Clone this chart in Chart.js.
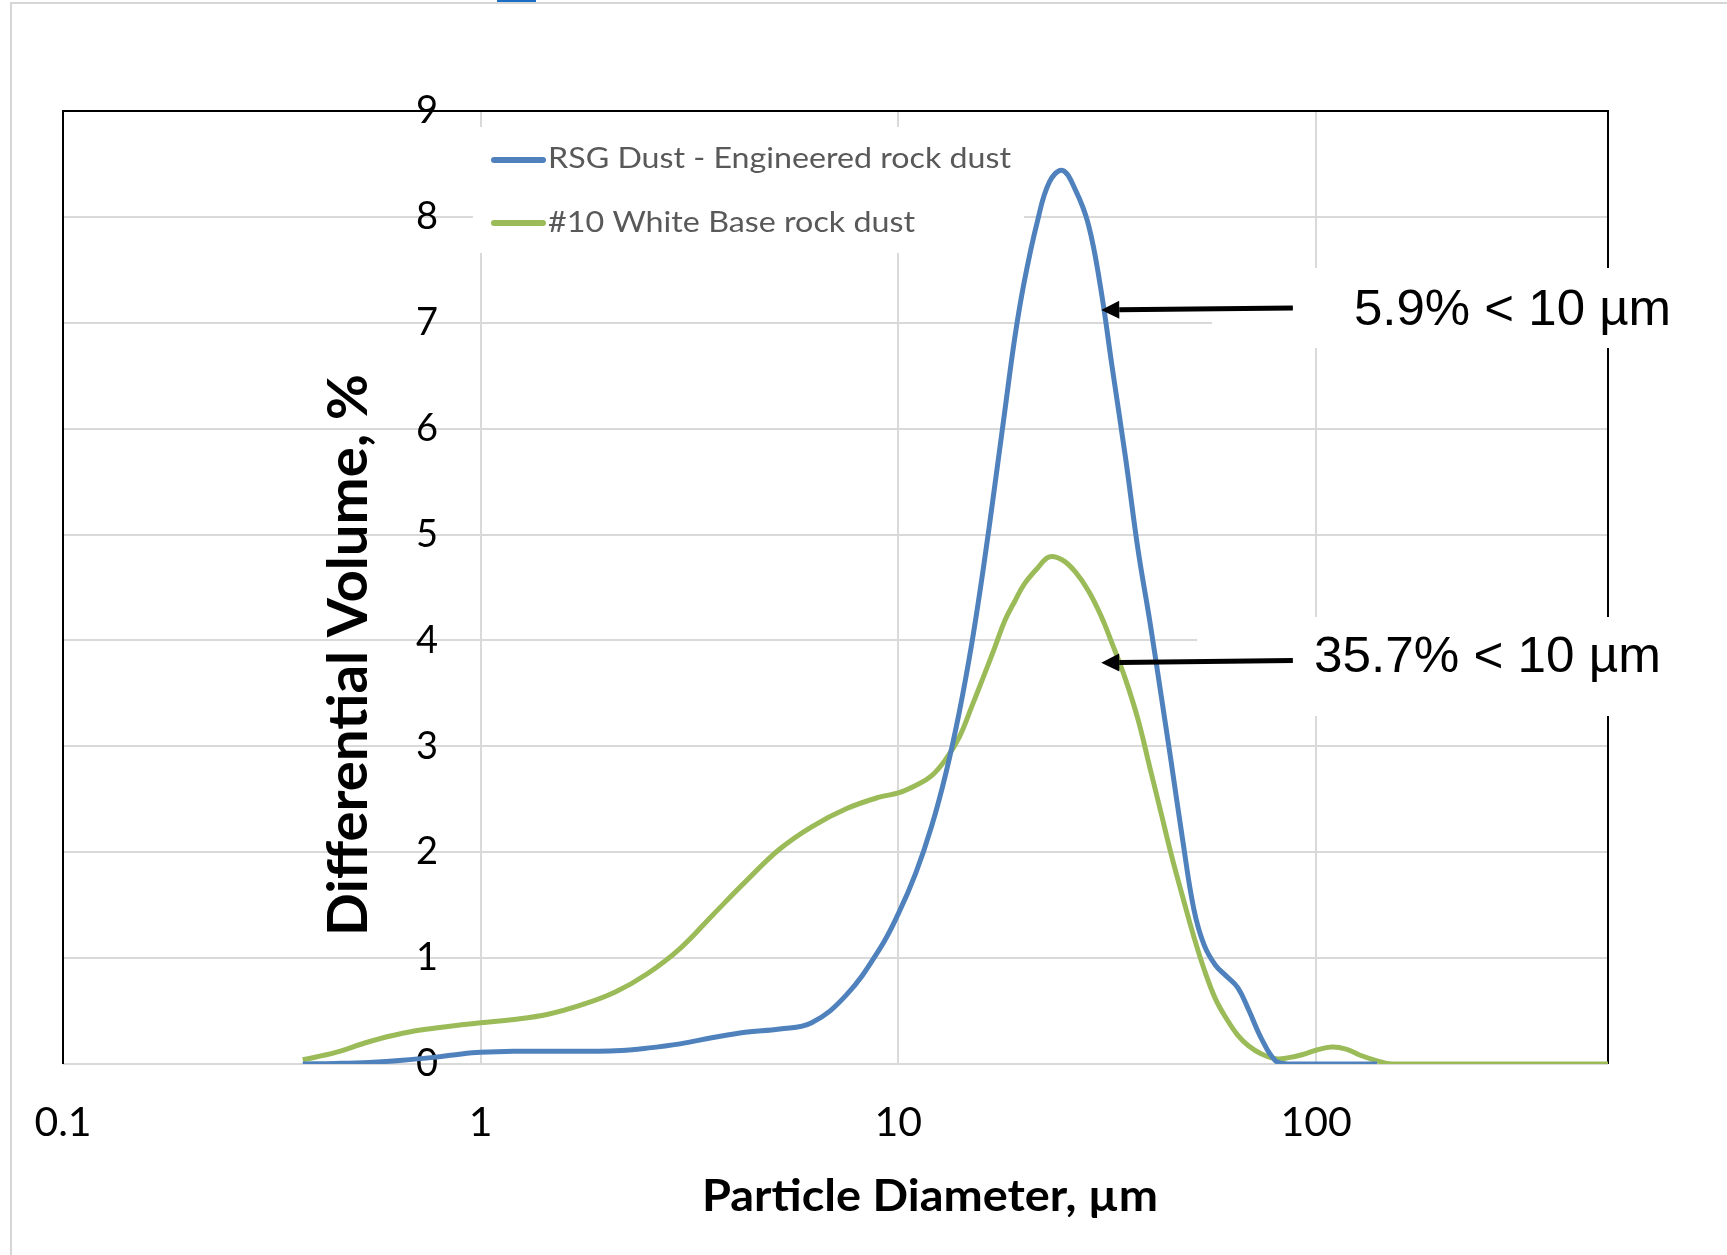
<!DOCTYPE html>
<html>
<head>
<meta charset="utf-8">
<script src="https://cdn.jsdelivr.net/npm/chart.js@4.4.1/dist/chart.umd.min.js"></script>
<style>
  html, body { margin: 0; padding: 0; background: #fff; }
  #wrap { width: 1727px; height: 1255px; }
</style>
</head>
<body>
<div id="wrap"><canvas id="psd" width="1727" height="1255"></canvas></div>
<script>
const blueColor = '#4f81bd'
const greenColor = '#9bbb59'
const gridColor = '#d9d9d9'

// particle diameter, µm
const sizes = [0.375, 0.45, 0.54, 0.65, 0.78, 0.9, 1.0, 1.2, 1.45, 1.75, 2.1, 2.5, 3.0, 3.6, 4.3, 5.2, 6.2, 7.5, 9.0, 10,
  11, 12, 13, 14, 15, 16, 17, 18, 19, 20, 21.5, 23, 24.7, 26.5, 28.5, 30.5, 32.5, 35, 37.5, 40,
  42.5, 45, 48, 51, 54, 57.5, 61, 65, 69, 74, 80, 86, 93, 100, 109, 118, 128, 140, 152, 200, 300, 500]

// differential volume, %
const rsgDust = [0, 0.005, 0.015, 0.035, 0.065, 0.095, 0.11, 0.12, 0.12, 0.12, 0.125, 0.15, 0.19, 0.25, 0.30, 0.33, 0.39, 0.65, 1.08, 1.42,
  1.80, 2.24, 2.75, 3.33, 3.98, 4.7, 5.45, 6.18, 6.86, 7.38, 7.95, 8.33, 8.44, 8.26, 7.93, 7.33, 6.58, 5.72, 4.85, 4.18,
  3.5, 2.85, 2.1, 1.46, 1.12, 0.93, 0.83, 0.72, 0.51, 0.24, 0.03, 0, 0, 0, 0, 0, 0, 0, null, null, null, null]

const whiteBase = [0.04, 0.11, 0.21, 0.29, 0.34, 0.37, 0.39, 0.42, 0.47, 0.56, 0.68, 0.85, 1.09, 1.41, 1.72, 2.03, 2.24, 2.41, 2.52, 2.56,
  2.63, 2.72, 2.88, 3.09, 3.38, 3.66, 3.93, 4.19, 4.37, 4.53, 4.68, 4.79, 4.76, 4.65, 4.47, 4.24, 3.97, 3.63, 3.25, 2.8,
  2.38, 1.98, 1.57, 1.2, 0.89, 0.61, 0.43, 0.27, 0.17, 0.095, 0.05, 0.06, 0.09, 0.13, 0.16, 0.14, 0.08, 0.03, 0, 0, 0, 0]

const seriesNames = ['RSG Dust - Engineered rock dust', '#10 White Base rock dust']
const xTickValues = [0.1, 1, 10, 100]
const xTickLabels = ['0.1', '1', '10', '100']
const yMin = 0
const yMax = 9
const xTitle = 'Particle Diameter, µm'
const yTitle = 'Differential Volume, %'
const notes = ['5.9% < 10 µm', '35.7% < 10 µm']

function toPoints(values) {
  var pts = []
  for (var i = 0; i < sizes.length; i++) {
    if (values[i] !== null) pts.push({x: sizes[i], y: values[i]})
  }
  return pts
}

// squeeze or stretch a string so it spans the given width
function fitText(ctx, text, x, y, width) {
  var w = ctx.measureText(text).width
  ctx.save()
  ctx.translate(x, y)
  ctx.scale(width / w, 1)
  ctx.textAlign = 'left'
  ctx.fillText(text, 0, 0)
  ctx.restore()
}

function arrow(ctx, x1, y1, x2, y2) {
  var ang = Math.atan2(y2 - y1, x2 - x1)
  var hl = 18, hw = 9
  var bx = x2 - hl * Math.cos(ang), by = y2 - hl * Math.sin(ang)
  ctx.strokeStyle = '#000'
  ctx.fillStyle = '#000'
  ctx.lineWidth = 5
  ctx.beginPath()
  ctx.moveTo(x1, y1)
  ctx.lineTo(bx, by)
  ctx.stroke()
  ctx.beginPath()
  ctx.moveTo(x2, y2)
  ctx.lineTo(bx - hw * Math.sin(ang), by + hw * Math.cos(ang))
  ctx.lineTo(bx + hw * Math.sin(ang), by - hw * Math.cos(ang))
  ctx.closePath()
  ctx.fill()
}

const decorations = {
  id: 'decorations',
  beforeDatasetsDraw(chart) {
    const ctx = chart.ctx
    const a = chart.chartArea
    ctx.save()
    // plot frame (bottom edge stays the grey zero line)
    ctx.strokeStyle = '#000'
    ctx.lineWidth = 2
    ctx.beginPath()
    ctx.moveTo(a.left, a.bottom)
    ctx.lineTo(a.left, a.top)
    ctx.lineTo(a.right, a.top)
    ctx.lineTo(a.right, a.bottom)
    ctx.stroke()

    // legend inside the plot
    ctx.fillStyle = '#fff'
    ctx.fillRect(473, 127, 551, 126)
    var rows = [{y: 160, base: 168, w: 463}, {y: 223, base: 232, w: 367}]
    ctx.font = '28px Lato'
    chart.data.datasets.forEach(function(ds, i) {
      ctx.strokeStyle = ds.borderColor
      ctx.lineWidth = 6
      ctx.lineCap = 'round'
      ctx.beginPath()
      ctx.moveTo(494, rows[i].y)
      ctx.lineTo(543, rows[i].y)
      ctx.stroke()
      ctx.fillStyle = '#595959'
      fitText(ctx, ds.label, 548, rows[i].base, rows[i].w)
    })
    ctx.restore()
  },
  afterDraw(chart) {
    const ctx = chart.ctx
    const xs = chart.scales.x
    const ys = chart.scales.y
    ctx.save()

    // outer border of the figure
    ctx.strokeStyle = '#d6d6d6'
    ctx.lineWidth = 2
    ctx.beginPath()
    ctx.moveTo(11, 1255)
    ctx.lineTo(11, 3)
    ctx.lineTo(1727, 3)
    ctx.stroke()
    ctx.fillStyle = '#1c6dc4'
    ctx.fillRect(497, 0, 39, 2)

    // axis titles
    ctx.fillStyle = '#000'
    ctx.font = 'bold 44px Lato'
    ctx.textBaseline = 'alphabetic'
    fitText(ctx, xTitle, 702, 1211, 456)
    ctx.save()
    ctx.translate(367, 936)
    ctx.rotate(-Math.PI / 2)
    ctx.font = 'bold 56px Lato'
    fitText(ctx, yTitle, 0, 0, 562)
    ctx.restore()

    // annotation boxes
    ctx.fillStyle = '#fff'
    ctx.fillRect(1212, 268, 515, 80)
    ctx.fillRect(1197, 617, 530, 99)
    ctx.fillStyle = '#000'
    ctx.font = '50px "Liberation Sans"'
    fitText(ctx, notes[0], 1354, 325, 317)
    fitText(ctx, notes[1], 1314, 672, 347)

    arrow(ctx, xs.getPixelForValue(88), ys.getPixelForValue(7.14), xs.getPixelForValue(30.6), ys.getPixelForValue(7.12))
    arrow(ctx, xs.getPixelForValue(88), ys.getPixelForValue(3.81), xs.getPixelForValue(30.6), ys.getPixelForValue(3.79))
    ctx.restore()
  }
}

Chart.defaults.font.family = 'Lato'
Chart.defaults.color = '#000'

var ctx = document.getElementById('psd')
var lineChart = new Chart(ctx, {
  type: 'line',
  data: {
    datasets: [
      {
        label: seriesNames[0],
        data: toPoints(rsgDust),
        borderColor: blueColor,
        borderWidth: 5,
        pointRadius: 0,
        fill: false,
        tension: 0.4
      },
      {
        label: seriesNames[1],
        data: toPoints(whiteBase),
        borderColor: greenColor,
        borderWidth: 5,
        pointRadius: 0,
        fill: false,
        tension: 0.4
      }
    ]
  },
  options: {
    responsive: false,
    animation: false,
    layout: { padding: { left: 63, top: 111, right: 119, bottom: 0 } },
    plugins: { legend: { display: false }, tooltip: { enabled: false } },
    scales: {
      x: {
        type: 'logarithmic',
        position: 'bottom',
        min: 0.1,
        max: 500,
        afterBuildTicks: function(scale) {
          scale.ticks = xTickValues.map(function(v) { return {value: v} })
        },
        afterFit: function(scale) { scale.height = 191 },
        ticks: {
          font: { size: 41 },
          padding: 34,
          maxRotation: 0,
          autoSkip: false,
          callback: function(value, index) { return xTickLabels[index] }
        },
        grid: { color: gridColor, lineWidth: 2, drawTicks: false },
        border: { display: false }
      },
      y: {
        // labels sit just left of the x = 1 gridline, as in the original
        position: { x: 0.79 },
        min: yMin,
        max: yMax,
        ticks: { stepSize: 1, font: { size: 38 } },
        grid: { color: gridColor, lineWidth: 2, drawTicks: false },
        border: { display: false }
      }
    }
  },
  plugins: [decorations]
})
</script>
</body>
</html>
